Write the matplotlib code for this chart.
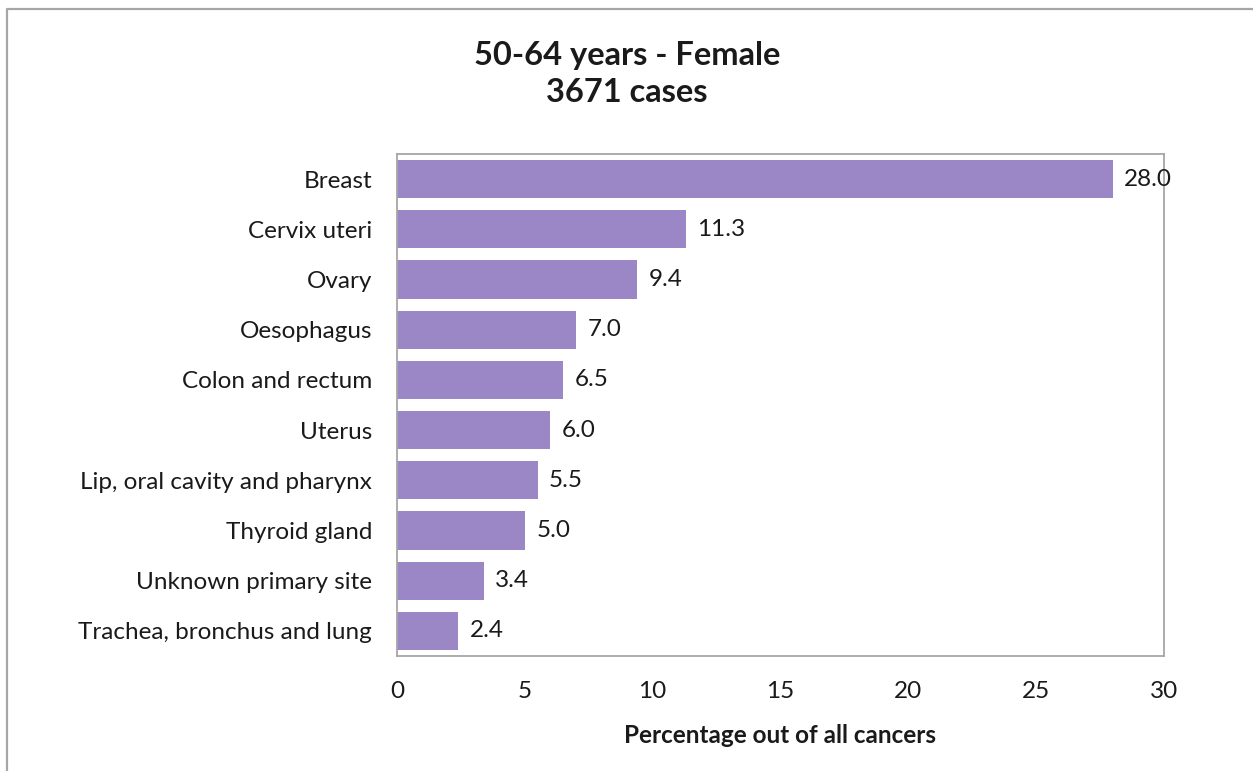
import numpy as np
import matplotlib as mpl
mpl.use("Agg")
import matplotlib.pyplot as plt
from matplotlib.lines import Line2D

plt.rcParams['font.family'] = ['Lato', 'DejaVu Sans']

sites = ["Breast", "Cervix uteri", "Ovary", "Oesophagus", "Colon and rectum",
         "Uterus", "Lip, oral cavity and pharynx", "Thyroid gland",
         "Unknown primary site", "Trachea, bronchus and lung"]
pct = [28.0, 11.3, 9.4, 7.0, 6.5, 6.0, 5.5, 5.0, 3.4, 2.4]
x_ticks = [0, 5, 10, 15, 20, 25, 30]

W, H = 1253, 771
fig = plt.figure(figsize=(W/100, H/100), dpi=100)
ax = fig.add_axes([397/W, 1-656/H, (1164-397)/W, (656-154)/H])

fs = 17.5
y = np.arange(len(sites))
ax.barh(y, pct, height=0.76, color='#9c87c6', zorder=2)
for yi, v in zip(y, pct):
    ax.text(v + 0.45, yi, f"{v:.1f}", va='center', ha='left', fontsize=fs, color='#1a1a1a', zorder=3)

ax.set_yticks(y)
ax.set_yticklabels(sites, fontsize=fs, color='#1a1a1a')
ax.set_ylim(len(sites)-0.5, -0.5)
ax.set_xlim(0, 30)
ax.set_xticks(x_ticks)
ax.set_xticklabels([str(t) for t in x_ticks], fontsize=fs, color='#1a1a1a')
ax.tick_params(length=0, pad=18, axis='x')
ax.tick_params(length=0, pad=18, axis='y')
for s in ax.spines.values():
    s.set_color('#a6a6a6')
    s.set_linewidth(1.3)
ax.set_xlabel("Percentage out of all cancers", fontsize=fs, fontweight='bold', labelpad=16, color='#1a1a1a')

fig.text(627/W, 1-55/H, "50-64 years - Female", ha='center', va='center',
         fontsize=23.5, fontweight='bold', color='#1a1a1a')
fig.text(627/W, 1-93/H, "3671 cases", ha='center', va='center',
         fontsize=23.5, fontweight='bold', color='#1a1a1a')

# outer border (left and top only visible)
fig.add_artist(Line2D([7/W, 7/W, 1], [0, 1-9/H, 1-9/H], transform=fig.transFigure,
                      color='#a6a6a6', linewidth=1.6))

fig.savefig("out.png", dpi=100)
